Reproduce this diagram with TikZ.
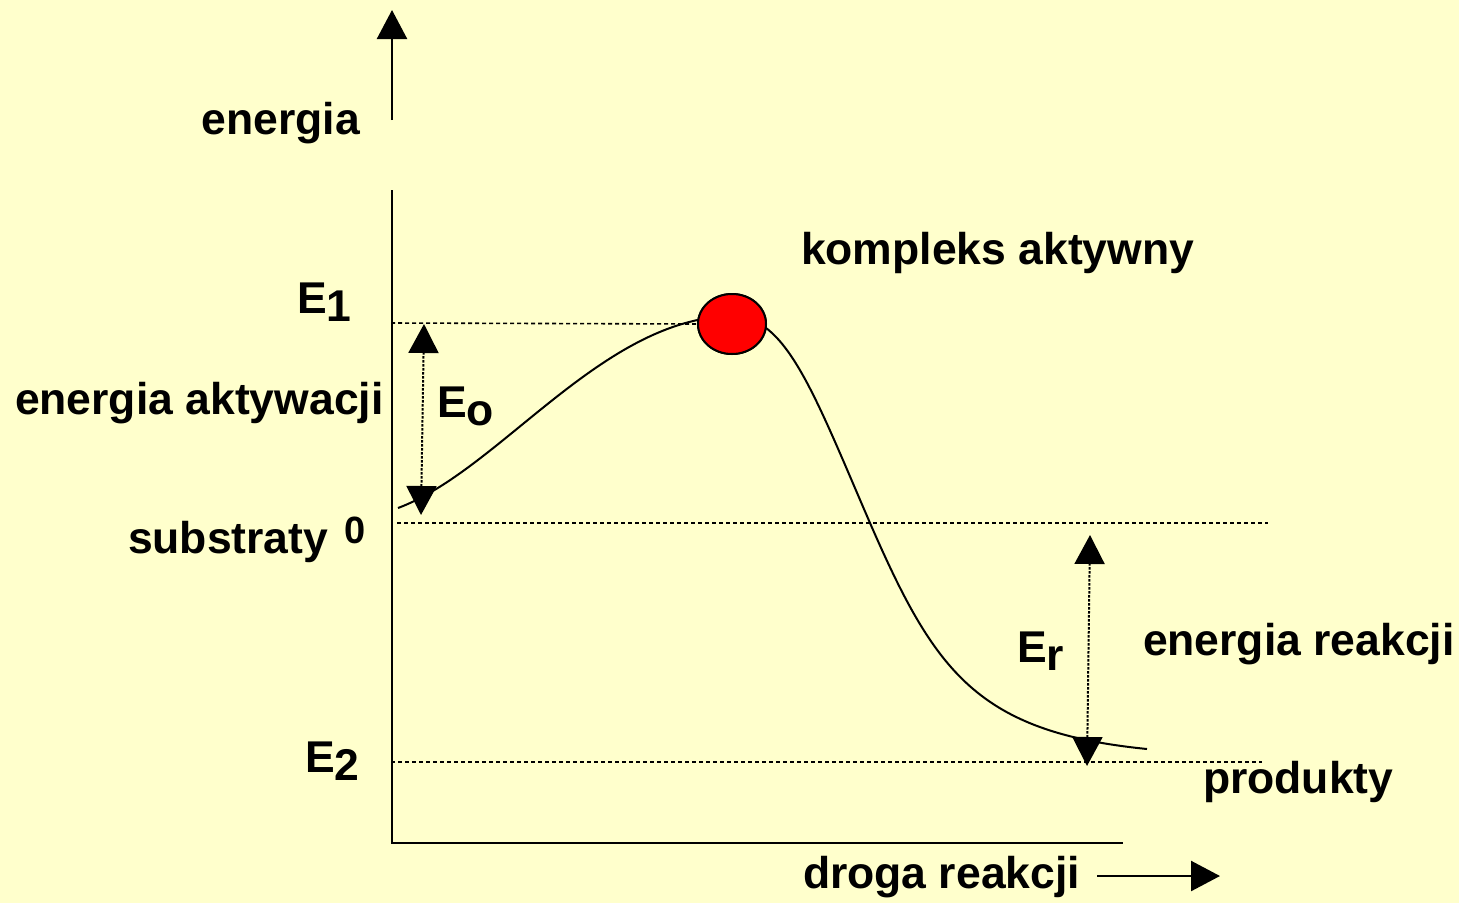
\documentclass[tikz,border=0pt]{standalone}
\usepackage{fontspec}
\setmainfont{Liberation Sans}
\usetikzlibrary{arrows.meta,shapes.geometric}
\definecolor{bgyellow}{HTML}{FFFFCC}
\definecolor{ballred}{HTML}{FF0000}
\tikzset{
  lbl/.style={inner sep=0pt, outer sep=0pt, font=\fontsize{44.5}{52}\selectfont\bfseries},
  smalllbl/.style={inner sep=0pt, outer sep=0pt, font=\fontsize{38}{44}\selectfont\bfseries},
  axisline/.style={line width=2.4pt},
  levelline/.style={line width=1.6pt, dash pattern=on 4pt off 3pt},
  dotarrow/.style={line width=2pt, dash pattern=on 2.5pt off 1.5pt,
    {Triangle[width=30pt,length=29pt]}-{Triangle[width=30pt,length=29pt]}},
  bigarrow/.style={line width=2.4pt, -{Triangle[width=30pt,length=29pt]}},
  curveline/.style={line width=2pt},
  ball/.style={ellipse, draw, line width=2pt, fill=ballred, minimum width=68pt, minimum height=60pt, inner sep=0pt}
}
\newcommand{\sbx}[2]{#1\raisebox{-8pt}{#2}}
\begin{document}
\begin{tikzpicture}[x=1pt,y=-1pt]
\fill[bgyellow] (0,0) rectangle (1459,903);
\useasboundingbox (0,0) rectangle (1459,903);

% coordinates
\coordinate (yaxTop) at (392,190);
\coordinate (origin) at (392,843);
\coordinate (xaxEnd) at (1123,843);
\coordinate (upStart) at (392,120);
\coordinate (upTip) at (392,10);
\coordinate (rightStart) at (1097,876);
\coordinate (rightTip) at (1220,876);
\coordinate (e1L) at (391,323);
\coordinate (zeroL) at (397,523);
\coordinate (zeroR) at (1268,523);
\coordinate (e2L) at (391,762);
\coordinate (e2R) at (1262,762);
\coordinate (cStart) at (398,508);
\coordinate (cPeak) at (732,316);
\coordinate (cMid) at (870,523);
\coordinate (cEnd) at (1147,749);
\coordinate (eoTop) at (424,324);
\coordinate (eoBot) at (421,515);
\coordinate (erTop) at (1090,535);
\coordinate (erBot) at (1087,766);

% ball
\node[ball] (kompleks) at (732,324) {};

% level lines
\draw[levelline] (e1L) -- (kompleks.west);
\draw[levelline] (zeroL) -- (zeroR);
\draw[levelline] (e2L) -- (e2R);

% axes
\draw[axisline] (yaxTop) -- (origin) -- (xaxEnd);
\draw[bigarrow] (upStart) -- (upTip);
\draw[bigarrow] (rightStart) -- (rightTip);

% energy curve
\draw[curveline] (cStart) .. controls (500,470) and (602,318) .. (cPeak)
  .. controls (786,316) and (813,391) .. (cMid)
  .. controls (935,672) and (977,732) .. (cEnd);

% ball on top
\node[ball] at (kompleks) {};

% dotted double arrows
\draw[dotarrow] (eoBot) -- (eoTop);
\draw[dotarrow] (erBot) -- (erTop);

% labels
\node[lbl, anchor=base east] (tEnergia) at (360,134) {energia};
\node[lbl, anchor=base west] (tKompleks) at (801,264) {kompleks aktywny};
\node[lbl, anchor=base west] (tE1) at (297,313) {\sbx{E}{1}};
\node[lbl, anchor=base west] (tAkt) at (15,414) {energia aktywacji};
\node[lbl, anchor=base west] (tEo) at (437,417) {\sbx{E}{o}};
\node[lbl, anchor=base west] (tSub) at (128,553) {substraty};
\node[smalllbl, anchor=base west] (tZero) at (344,543) {0};
\node[lbl, anchor=base west] (tEr) at (1017,662) {\sbx{E}{r}};
\node[lbl, anchor=base west] (tReak) at (1143,655) {energia reakcji};
\node[lbl, anchor=base west] (tE2) at (305,772) {\sbx{E}{2}};
\node[lbl, anchor=base west] (tProd) at (1203,793) {produkty};
\node[lbl, anchor=base west] (tDroga) at (803,888) {droga reakcji};
\end{tikzpicture}
\end{document}
